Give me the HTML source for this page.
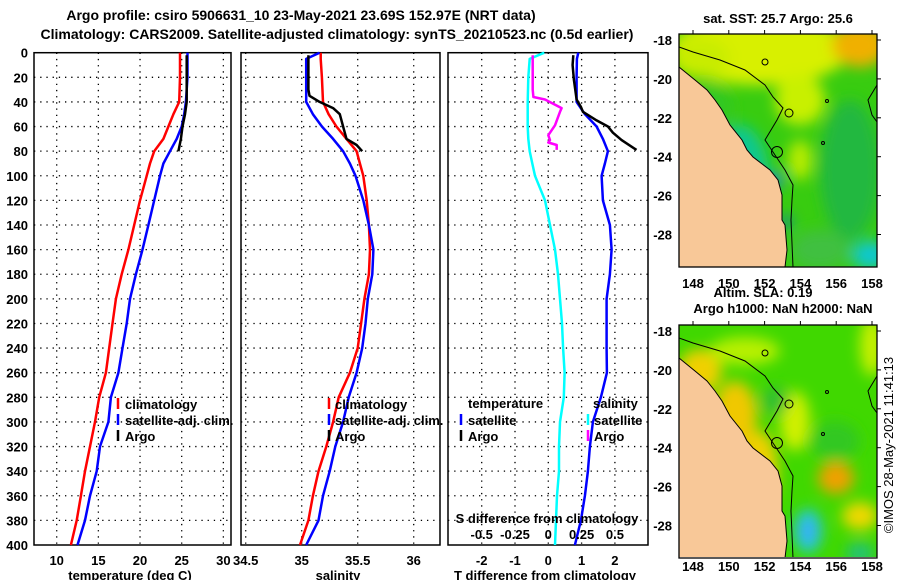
<!DOCTYPE html>
<html><head><meta charset="utf-8"><style>
html,body{margin:0;padding:0;background:#fff;}
svg{display:block;font-family:"Liberation Sans",sans-serif;font-weight:bold;}
</style></head><body>
<svg id="fig" width="900" height="580" viewBox="0 0 900 580" xmlns="http://www.w3.org/2000/svg">
<defs>
<filter id="blur" x="-50%" y="-50%" width="200%" height="200%"><feGaussianBlur stdDeviation="7"/></filter>
<clipPath id="clipTop"><rect x="679" y="34" width="198" height="233"/></clipPath>
<clipPath id="clipBot"><rect x="679" y="325" width="198" height="232"/></clipPath>
</defs>
<text x="301" y="20" font-size="14" text-anchor="middle">Argo profile: csiro 5906631_10 23-May-2021 23.69S 152.97E (NRT data)</text>
<text x="337" y="39" font-size="14" text-anchor="middle">Climatology: CARS2009. Satellite-adjusted climatology: synTS_20210523.nc (0.5d earlier)</text>
<g id="charts"></g>
<g id="maps"></g>
<text x="0" y="0" font-size="13" font-weight="normal" transform="translate(893,445) rotate(-90)" text-anchor="middle">©IMOS 28-May-2021 11:41:13</text>
</svg>
<script>
const depths=[0,5,20,40,50,60,70,80,90,100,120,140,160,180,200,220,240,260,280,300,320,340,360,380,400];
const tempClim=[24.8,24.8,24.8,24.7,24.0,23.4,22.8,21.7,21.2,20.8,20.0,19.3,18.6,17.8,17.1,16.7,16.3,15.9,15.1,14.6,14.0,13.4,12.9,12.4,11.7];
const tempSat=[25.7,25.7,25.7,25.5,25.3,25.0,24.4,23.6,22.8,22.4,21.7,21.0,20.3,19.5,18.8,18.4,17.9,17.4,16.5,16.2,15.2,14.8,14.0,13.4,12.5];
const argoTempDepths=[2,10,20,30,40,50,60,70,80];
const tempArgo=[25.6,25.6,25.6,25.6,25.6,25.4,25.1,24.9,24.6];
const salClim=[35.17,35.17,35.18,35.19,35.24,35.31,35.40,35.49,35.52,35.55,35.58,35.60,35.61,35.60,35.56,35.53,35.50,35.43,35.33,35.28,35.22,35.15,35.10,35.06,34.985];
const salSat=[35.16,35.04,35.04,35.04,35.10,35.18,35.28,35.37,35.43,35.48,35.55,35.60,35.64,35.63,35.59,35.57,35.54,35.49,35.42,35.37,35.30,35.25,35.19,35.15,35.04];
const argoSalDepths=[2,10,20,30,35,40,45,50,60,70,75,80];
const salArgo=[35.06,35.06,35.06,35.06,35.07,35.16,35.28,35.34,35.37,35.40,35.49,35.54];
const tDiffSat=[0.9,0.86,0.85,0.85,1.1,1.45,1.64,1.79,1.70,1.60,1.64,1.85,1.90,1.85,1.75,1.75,1.75,1.76,1.58,1.34,1.25,1.19,1.10,0.98,0.80];
const sDiffSat=[-0.03,-0.14,-0.15,-0.155,-0.155,-0.155,-0.15,-0.14,-0.12,-0.10,-0.025,0.013,0.05,0.073,0.088,0.103,0.111,0.122,0.116,0.088,0.080,0.080,0.065,0.058,0.05];
const argoTDiffDepths=[2,10,22,38,44,48,55,60,65,71,79];
const tDiffArgo=[0.75,0.73,0.77,0.85,0.98,1.04,1.45,1.79,1.94,2.2,2.65];
const argoSDiffDepths=[2,30,36,38,45,48,59,67,71,73,75,79];
const sDiffArgo=[-0.117,-0.117,-0.112,-0.025,0.10,0.088,0.05,0,0.013,0,0.063,0.063];
const depthTicks=[0,20,40,60,80,100,120,140,160,180,200,220,240,260,280,300,320,340,360,380,400];
const tempTicks=[10,15,20,25,30];
const salTicks=[34.5,35,35.5,36];
const tDiffTicks=[-2,-1,0,1,2];
const sDiffTicks=[-0.5,-0.25,0,0.25,0.5];
const lonTicks=[148,150,152,154,156,158];
const latTicks=[-18,-20,-22,-24,-26,-28];

const NS='http://www.w3.org/2000/svg';
const Y0=52.7,Y1=545;
const yD=d=>Y0+(Y1-Y0)*d/400;
const xT=v=>56.7+(v-10)*8.333;
const xS=v=>301.7+(v-35)*112;
const xTd=v=>548.3+v*33.3;
const xSd=v=>548.3+v*133.2;
function mk(tag,attrs,parent,txt){const e=document.createElementNS(NS,tag);for(const k in attrs)e.setAttribute(k,attrs[k]);if(txt!==undefined)e.textContent=txt;parent.appendChild(e);return e;}
const charts=document.getElementById('charts');

function panel(name,x0,x1,xTickVals,xf,labelTicks){
  const g=mk('g',{},charts);
  
  
  depthTicks.forEach(d=>{ if(d>0&&d<400){const l=mk('line',{x1:x0,x2:x1,y1:yD(d),y2:yD(d),stroke:'#000','stroke-width':1.3,'stroke-dasharray':'1.3 4.9'},g);
    
    }});
  xTickVals.forEach(v=>{const x=xf(v); if(x>x0+1&&x<x1-1){const l=mk('line',{x1:x,x2:x,y1:Y0,y2:Y1,stroke:'#000','stroke-width':1.3,'stroke-dasharray':'1.3 4.9'},g);
    
    }});
  const r=mk('rect',{x:x0,y:Y0,width:x1-x0,height:Y1-Y0,fill:'none',stroke:'#000','stroke-width':1.5},g);
  
  
  if(labelTicks){xTickVals.forEach(v=>{const t=mk('text',{x:xf(v),y:565,'font-size':13,'text-anchor':'middle'},g,String(v));
    
    });}
  return g;
}
function line(g,name,vals,ds,xf,color,w){
  const pts=vals.map((v,i)=>xf(v).toFixed(1)+','+yD(ds[i]).toFixed(1)).join(' ');
  const p=mk('polyline',{points:pts,fill:'none',stroke:color,'stroke-width':w,'stroke-linejoin':'round'},g);
  
  
}
const g1=panel('temperature-panel',34,231,tempTicks,xT,true);
line(g1,'temp-climatology-line',tempClim,depths,xT,'#ff0000',2.5);
line(g1,'temp-satellite-line',tempSat,depths,xT,'#0000ff',2.5);
line(g1,'temp-argo-line',tempArgo,argoTempDepths,xT,'#000',2.5);
depthTicks.forEach(d=>{const t=mk('text',{x:28,y:yD(d)+5,'font-size':13,'text-anchor':'end'},charts,String(d));
  
  });
const g2=panel('salinity-panel',241,440,salTicks,xS,true);
line(g2,'sal-climatology-line',salClim,depths,xS,'#ff0000',2.5);
line(g2,'sal-satellite-line',salSat,depths,xS,'#0000ff',2.5);
line(g2,'sal-argo-line',salArgo,argoSalDepths,xS,'#000',2.5);
const g3=panel('difference-panel',448,648,tDiffTicks,xTd,true);
line(g3,'sdiff-satellite-line',sDiffSat,depths,xSd,'#00ffff',2.5);
line(g3,'tdiff-satellite-line',tDiffSat,depths,xTd,'#0000ff',2.5);
line(g3,'tdiff-argo-line',tDiffArgo,argoTDiffDepths,xTd,'#000',2.5);
line(g3,'sdiff-argo-line',sDiffArgo,argoSDiffDepths,xSd,'#ff00ff',2.5);
sDiffTicks.forEach(v=>{const t=mk('text',{x:xSd(v),y:539,'font-size':13,'text-anchor':'middle'},g3,String(v));
  
  });
function txt(x,y,s,name,anchor,size){const t=mk('text',{x:x,y:y,'font-size':size||13,'text-anchor':anchor||'start'},charts,s);
  
  return t;}
txt(547,523,'S difference from climatology','sdiff-axis-title','middle');
txt(130,580,'temperature (deg C)','temp-axis-title','middle');
txt(338,580,'salinity','salinity-axis-title','middle');
txt(545,580,'T difference from climatology','tdiff-axis-title','middle');
function legend(mx,tx,y,color,label,name){
  const l=mk('line',{x1:mx,x2:mx,y1:y-11,y2:y,stroke:color,'stroke-width':2.5},charts);
  
  
  if(label)txt(tx,y,label,name);
}
legend(118,125,409,'#ff0000','climatology','legend-climatology');
legend(118,125,425,'#0000ff','satellite-adj. clim.','legend-satellite-adj');
legend(118,125,441,'#000','Argo','legend-argo');
legend(329,335,409,'#ff0000','climatology','legend-climatology-2');
legend(329,335,425,'#0000ff','satellite-adj. clim.','legend-satellite-adj-2');
legend(329,335,441,'#000','Argo','legend-argo-2');
txt(468,408,'temperature','legend-temperature-heading');
legend(461,468,425,'#0000ff','satellite','legend-t-satellite');
legend(461,468,441,'#000','Argo','legend-t-argo');
txt(593,408,'salinity','legend-salinity-heading');
legend(588,594,425,'#00ffff','satellite','legend-s-satellite');
legend(588,594,441,'#ff00ff','Argo','legend-s-argo');

// maps
const maps=document.getElementById('maps');
const lonX=lo=>693+(lo-148)*17.9;
const latY=(la,top)=>top+6+(-18-la)*19.45;
const coast="679,67 695,80 707,90 715,100 722,110 730,125 742,140 747,150 753,157 770,170 778,180 782,195 782,220 785,225 787,250 785,267 679,267";
const contour="679,47 693,52 720,60 745,70 765,85 773,97 783,108 777,120 765,140 775,155 785,170 793,185 792,200 791,220 793,267";
function drawMap(name,top,clip,blobs,lonY){
  const g=mk('g',{},maps);
  
  
  const off=top-34;
  const cg=mk('g',{'clip-path':'url(#'+clip+')'},g);
  mk('rect',{x:679,y:top,width:198,height:233,fill:blobs.base},cg);
  const bg=mk('g',{filter:'url(#blur)'},cg);
  blobs.list.forEach(b=>mk('ellipse',{cx:b[0],cy:b[1]+off,rx:b[2],ry:b[3],fill:b[4]},bg));
  const land=mk('polygon',{points:coast,fill:'#f8c898',stroke:'#000','stroke-width':1,transform:'translate(0,'+off+')'},cg);
  
  
  const c=mk('polyline',{points:contour,fill:'none',stroke:'#000','stroke-width':1,transform:'translate(0,'+off+')'},cg);
  
  
  mk('polyline',{points:'877,85 868,100 872,115 877,122',fill:'none',stroke:'#000','stroke-width':1,transform:'translate(0,'+off+')'},cg);
  [[765,62,3],[789,113,4],[777,152,5.5]].forEach(cc=>mk('circle',{cx:cc[0],cy:cc[1]+off,r:cc[2],fill:'none',stroke:'#000','stroke-width':1},cg));
  [[827,101],[823,143]].forEach(cc=>mk('circle',{cx:cc[0],cy:cc[1]+off,r:1.5,fill:'none',stroke:'#000','stroke-width':1},cg));
  const fr=mk('rect',{x:679,y:top,width:198,height:233,fill:'none',stroke:'#000','stroke-width':1.3},g);
  
  
  lonTicks.forEach(lo=>{mk('line',{x1:lonX(lo),x2:lonX(lo),y1:top,y2:top-4,stroke:'#000'},g);
    const t=mk('text',{x:lonX(lo),y:lonY,'font-size':13,'text-anchor':'middle'},g,String(lo));
    
    });
  latTicks.forEach(la=>{const y=latY(la,top);mk('line',{x1:877,x2:881,y1:y,y2:y,stroke:'#000'},g);
    const t=mk('text',{x:672,y:y+5,'font-size':13,'text-anchor':'end'},g,String(la));
    
    });
}
drawMap('sst-map',34,'clipTop',{base:'#38cc10',list:[
 [760,50,90,35,'#d8f000'],[700,58,30,20,'#c8ec00'],[860,45,28,22,'#f0b000'],[800,100,25,25,'#c8f000'],
 [705,110,28,28,'#30c820'],[740,185,30,60,'#10c890'],[775,180,8,6,'#1070f0'],[786,222,5,6,'#1060e0'],
 [850,170,30,70,'#20b840'],[870,255,18,14,'#10c8d0'],[800,160,12,20,'#b8ec00'],[820,250,30,20,'#40c040']]},288);
drawMap('sla-map',325,'clipBot',{base:'#40d800',list:[
 [700,80,22,22,'#f0d000'],[735,125,22,35,'#f0c800'],[760,180,18,40,'#f0d000'],[795,130,15,30,'#d0f000'],
 [745,60,35,14,'#b8f000'],[872,55,12,30,'#c8f000'],[836,187,18,16,'#f0a000'],[860,225,18,14,'#f0d800'],
 [808,240,14,22,'#20c8e0'],[808,240,6,10,'#40a0ff'],[835,150,25,20,'#30c820'],[775,110,14,14,'#30c030'],[860,262,14,10,'#20c080']]},571);
txt(778,23,'sat. SST: 25.7 Argo: 25.6','sst-map-title','middle');
txt(763,297,'Altim. SLA: 0.19','sla-value-label','middle');
txt(783,313,'Argo h1000: NaN h2000: NaN','argo-height-label','middle');
</script>
</body></html>
